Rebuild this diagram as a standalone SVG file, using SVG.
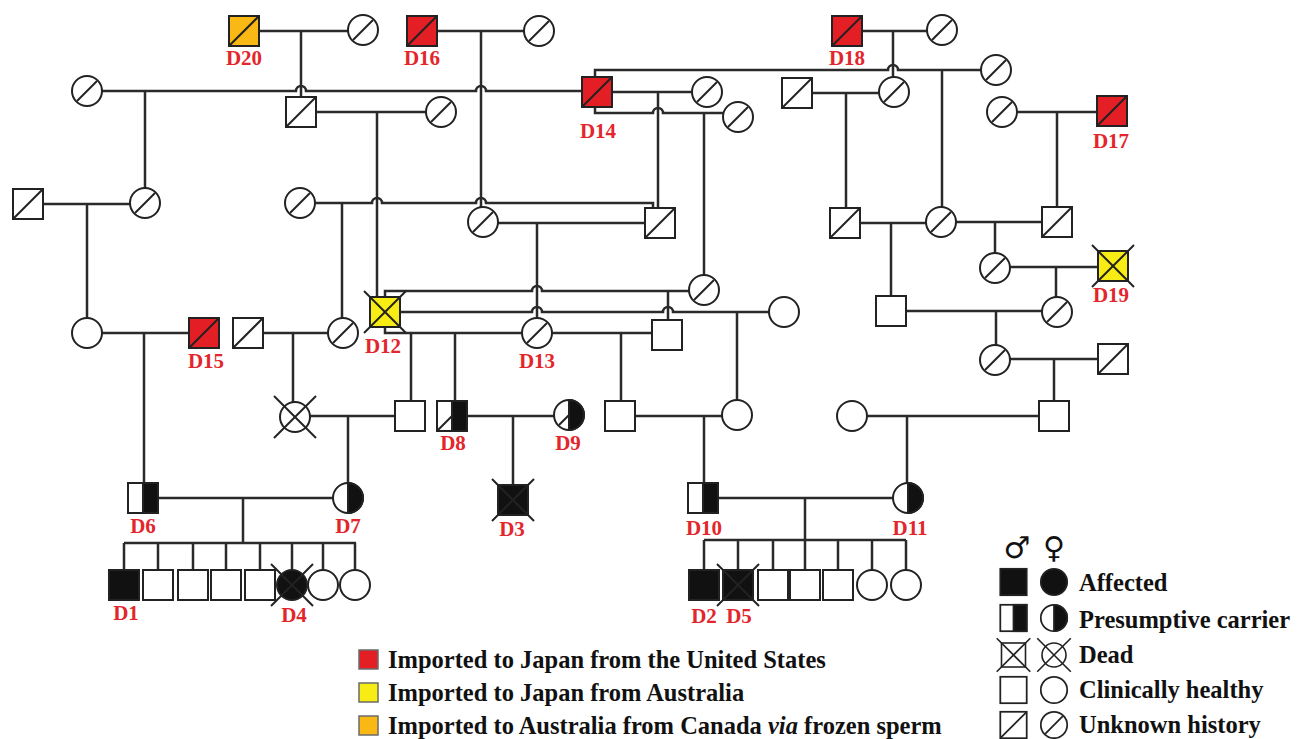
<svg xmlns="http://www.w3.org/2000/svg" xmlns:xlink="http://www.w3.org/1999/xlink" width="1300" height="739" viewBox="0 0 1300 739">
<style>
.l{stroke:#2a2a2a;stroke-width:2.5;fill:none}
.o{stroke:#222;stroke-width:2;fill:#fff}
.k{stroke:#222;stroke-width:2;fill:#111}
.d{stroke:#222;stroke-width:2;fill:none}
.x{stroke:#222;stroke-width:2}
.red{fill:#e31e24}
.yel{fill:#f7ec13}
.org{fill:#f9b814}
.lab{font-family:"Liberation Serif","Times New Roman",serif;font-weight:bold;font-size:21px;fill:#e3262b;text-anchor:middle}
.lg{font-family:"Liberation Serif","Times New Roman",serif;font-weight:bold;font-size:24.5px;fill:#111}
.box{stroke:#6b6b6b;stroke-width:1.5}
</style>
<defs>
<g id="uq"><rect x="-15" y="-15" width="30" height="30" class="o"/><line x1="-15" y1="15" x2="15" y2="-15" class="d"/></g>
<g id="uc"><circle r="15" class="o"/><line x1="-10" y1="10" x2="10" y2="-10" class="d"/></g>
<g id="hq"><rect x="-15" y="-15" width="30" height="30" class="o"/></g>
<g id="hc"><circle r="15" class="o"/></g>
<g id="aq"><rect x="-15" y="-15" width="30" height="30" class="k"/></g>
<g id="ac"><circle r="15" class="k"/></g>
<g id="cq"><rect x="-15" y="-15" width="30" height="30" class="o"/><rect x="0" y="-15" width="15" height="30" class="k"/></g>
<g id="cc"><circle r="15" class="o"/><path d="M0,-15 A15,15 0 0 1 0,15 Z" class="k"/></g>
<g id="xx"><line x1="-21" y1="-21" x2="21" y2="21" class="x"/><line x1="-21" y1="21" x2="21" y2="-21" class="x"/></g>
</defs>

<g id="connectors" class="l">
<path d="M259,31 H348 M301,31 V97"/>
<path d="M438,31 H524 M481,31 V207"/>
<path d="M863,31 H927 M893,31 V77"/>
<path d="M102,91 H296 a5,5 0 0 1 10,0 H476 a5,5 0 0 1 10,0 H582 M145,91 V188"/>
<path d="M317,112 H427 M377,112 V298"/>
<path d="M612,92 H692 M658,92 V208"/>
<path d="M595,107 V113 H653 a5,5 0 0 1 10,0 H723 M704,113 V275"/>
<path d="M595,77 V70 H888 a5,5 0 0 1 10,0 H982 M942,70 V207"/>
<path d="M812,93 H879 M846,93 V208"/>
<path d="M1017,112 H1097 M1057,112 V207"/>
<path d="M43,204 H130 M87,204 V318"/>
<path d="M315,203 H372 a5,5 0 0 1 10,0 H476 a5,5 0 0 1 10,0 H653 V208 M342,203 V318"/>
<path d="M498,223 H645 M537,223 V318"/>
<path d="M860,223 H926 M891,223 V296"/>
<path d="M956,222 H1042 M995,222 V253"/>
<path d="M1010,267 H1098 M1056,267 V297"/>
<path d="M906,311 H1042 M996,311 V345"/>
<path d="M1010,359 H1098 M1054,359 V401"/>
<path d="M867,416 H1039 M907,416 V483"/>
<path d="M102,333 H189 M144,333 V483"/>
<path d="M263,333 H328 M293,333 V402"/>
<path d="M385,297 V291 H532 a5,5 0 0 1 10,0 H689 M668,291 V320"/>
<path d="M400,312 H532 a5,5 0 0 1 10,0 H663 a5,5 0 0 1 10,0 H769 M737,312 V400"/>
<path d="M385,327 V333 H522 M411,333 V401 M455,333 V401"/>
<path d="M552,333 H652 M621,333 V401"/>
<path d="M310,416 H395 M348,416 V483"/>
<path d="M467,416 H554 M513,416 V485"/>
<path d="M635,416 H722 M704,416 V483"/>
<path d="M158,498 H333 M243,498 V543 M124,543 H356 M124,543 V570 M158,543 V570 M193,543 V570 M226,543 V570 M260,543 V570 M292,543 V570 M323,543 V570 M355,543 V570"/>
<path d="M718,498 H893 M805,498 V540 M704,540 H906 M704,540 V570 M738,540 V570 M773,540 V570 M805,540 V570 M838,540 V570 M872,540 V570 M906,540 V570"/>
</g>

<!-- top generation -->
<g id="D20" transform="translate(244,31)"><rect x="-15" y="-15" width="30" height="30" class="o org"/><line x1="-15" y1="15" x2="15" y2="-15" class="d"/></g>
<text class="lab" x="244" y="65">D20</text>
<g id="n_f20" transform="translate(363,30)"><use xlink:href="#uc"/></g>
<g id="D16" transform="translate(422,31)"><rect x="-15" y="-15" width="30" height="30" class="o red"/><line x1="-15" y1="15" x2="15" y2="-15" class="d"/></g>
<text class="lab" x="422" y="65">D16</text>
<g id="n_f16" transform="translate(539,31)"><use xlink:href="#uc"/></g>
<g id="D18" transform="translate(847,31)"><rect x="-15" y="-15" width="30" height="30" class="o red"/><line x1="-15" y1="15" x2="15" y2="-15" class="d"/></g>
<text class="lab" x="847" y="65">D18</text>
<g id="n_f18" transform="translate(942,30)"><use xlink:href="#uc"/></g>

<g id="n_c87" transform="translate(87,91)"><use xlink:href="#uc"/></g>
<g id="n_s301" transform="translate(301,112)"><use xlink:href="#uq"/></g>
<g id="n_c441" transform="translate(441,112)"><use xlink:href="#uc"/></g>
<g id="D14" transform="translate(597,92)"><rect x="-15" y="-15" width="30" height="30" class="o red"/><line x1="-15" y1="15" x2="15" y2="-15" class="d"/></g>
<text class="lab" x="598" y="138">D14</text>
<g id="n_c707" transform="translate(707,92)"><use xlink:href="#uc"/></g>
<g id="n_c738" transform="translate(738,117)"><use xlink:href="#uc"/></g>
<g id="n_s797" transform="translate(797,93)"><use xlink:href="#uq"/></g>
<g id="n_c893" transform="translate(894,92)"><use xlink:href="#uc"/></g>
<g id="n_c996" transform="translate(996,70)"><use xlink:href="#uc"/></g>
<g id="n_c1002" transform="translate(1002,112)"><use xlink:href="#uc"/></g>
<g id="D17" transform="translate(1112,111)"><rect x="-15" y="-15" width="30" height="30" class="o red"/><line x1="-15" y1="15" x2="15" y2="-15" class="d"/></g>
<text class="lab" x="1111" y="148">D17</text>

<g id="n_s28" transform="translate(28,204)"><use xlink:href="#uq"/></g>
<g id="n_c145" transform="translate(145,203)"><use xlink:href="#uc"/></g>
<g id="n_c300" transform="translate(300,203)"><use xlink:href="#uc"/></g>
<g id="n_c483" transform="translate(483,222)"><use xlink:href="#uc"/></g>
<g id="n_s660" transform="translate(660,223)"><use xlink:href="#uq"/></g>
<g id="n_s845" transform="translate(845,223)"><use xlink:href="#uq"/></g>
<g id="n_c941" transform="translate(941,222)"><use xlink:href="#uc"/></g>
<g id="n_s1057" transform="translate(1057,222)"><use xlink:href="#uq"/></g>

<g id="n_c995a" transform="translate(995,268)"><use xlink:href="#uc"/></g>
<g id="D19" transform="translate(1113,266)"><rect x="-15" y="-15" width="30" height="30" class="o yel"/><use xlink:href="#xx"/></g>
<text class="lab" x="1111" y="302">D19</text>
<g id="n_c704" transform="translate(704,290)"><use xlink:href="#uc"/></g>
<g id="n_s891" transform="translate(891,311)"><use xlink:href="#hq"/></g>
<g id="n_c1057" transform="translate(1057,312)"><use xlink:href="#uc"/></g>
<g id="n_c995b" transform="translate(995,360)"><use xlink:href="#uc"/></g>
<g id="n_s1113" transform="translate(1113,359)"><use xlink:href="#uq"/></g>

<g id="n_c87b" transform="translate(87,333)"><use xlink:href="#hc"/></g>
<g id="D15" transform="translate(204,333)"><rect x="-15" y="-15" width="30" height="30" class="o red"/><line x1="-15" y1="15" x2="15" y2="-15" class="d"/></g>
<text class="lab" x="206" y="368">D15</text>
<g id="n_s248" transform="translate(248,333)"><use xlink:href="#uq"/></g>
<g id="n_c343" transform="translate(343,333)"><use xlink:href="#uc"/></g>
<g id="D12" transform="translate(385,312)"><rect x="-15" y="-15" width="30" height="30" class="o yel"/><use xlink:href="#xx"/></g>
<text class="lab" x="383" y="353">D12</text>
<g id="D13" transform="translate(537,333)"><use xlink:href="#uc"/></g>
<text class="lab" x="537" y="368">D13</text>
<g id="n_s667" transform="translate(667,335)"><use xlink:href="#hq"/></g>
<g id="n_c784" transform="translate(784,312)"><use xlink:href="#hc"/></g>

<g id="n_dead295" transform="translate(295,417)"><use xlink:href="#hc"/><use xlink:href="#xx"/></g>
<g id="n_s410" transform="translate(410,416)"><use xlink:href="#hq"/></g>
<g id="D8" transform="translate(452,416)"><rect x="-15" y="-15" width="30" height="30" class="o"/><line x1="-15" y1="15" x2="15" y2="-15" class="d"/><rect x="0" y="-15" width="15" height="30" class="k"/></g>
<text class="lab" x="453" y="450">D8</text>
<g id="D9" transform="translate(569,415)"><circle r="15" class="o"/><line x1="-10" y1="10" x2="10" y2="-10" class="d"/><path d="M0,-15 A15,15 0 0 1 0,15 Z" class="k"/></g>
<text class="lab" x="568" y="450">D9</text>
<g id="n_s620" transform="translate(620,416)"><use xlink:href="#hq"/></g>
<g id="n_c737" transform="translate(737,415)"><use xlink:href="#hc"/></g>
<g id="n_c852" transform="translate(852,416)"><use xlink:href="#hc"/></g>
<g id="n_s1054" transform="translate(1054,416)"><use xlink:href="#hq"/></g>

<g id="D6" transform="translate(143,498)"><use xlink:href="#cq"/></g>
<text class="lab" x="143" y="533">D6</text>
<g id="D7" transform="translate(348,498)"><use xlink:href="#cc"/></g>
<text class="lab" x="348" y="533">D7</text>
<g id="D3" transform="translate(513,500)"><use xlink:href="#aq"/><use xlink:href="#xx"/></g>
<text class="lab" x="512" y="536">D3</text>
<g id="D10" transform="translate(703,498)"><use xlink:href="#cq"/></g>
<text class="lab" x="704" y="535">D10</text>
<g id="D11" transform="translate(908,498)"><use xlink:href="#cc"/></g>
<text class="lab" x="910" y="535">D11</text>

<g id="D1" transform="translate(124,585)"><use xlink:href="#aq"/></g>
<text class="lab" x="126" y="620">D1</text>
<g id="n_k2" transform="translate(158,585)"><use xlink:href="#hq"/></g>
<g id="n_k3" transform="translate(193,585)"><use xlink:href="#hq"/></g>
<g id="n_k4" transform="translate(226,585)"><use xlink:href="#hq"/></g>
<g id="n_k5" transform="translate(260,585)"><use xlink:href="#hq"/></g>
<g id="D4" transform="translate(292,585)"><use xlink:href="#ac"/><use xlink:href="#xx"/></g>
<text class="lab" x="294" y="622">D4</text>
<g id="n_k7" transform="translate(323,585)"><use xlink:href="#hc"/></g>
<g id="n_k8" transform="translate(355,585)"><use xlink:href="#hc"/></g>

<g id="D2" transform="translate(704,585)"><use xlink:href="#aq"/></g>
<text class="lab" x="704" y="623">D2</text>
<g id="D5" transform="translate(738,585)"><use xlink:href="#aq"/><use xlink:href="#xx"/></g>
<text class="lab" x="739" y="623">D5</text>
<g id="n_m3" transform="translate(773,585)"><use xlink:href="#hq"/></g>
<g id="n_m4" transform="translate(805,585)"><use xlink:href="#hq"/></g>
<g id="n_m5" transform="translate(838,585)"><use xlink:href="#hq"/></g>
<g id="n_m6" transform="translate(872,585)"><use xlink:href="#hc"/></g>
<g id="n_m7" transform="translate(906,585)"><use xlink:href="#hc"/></g>

<!-- legend right -->
<g id="legend-symbols">
<text x="1017" y="558" font-family="DejaVu Sans,sans-serif" font-size="30" text-anchor="middle" fill="#111">♂</text>
<text x="1054" y="558" font-family="DejaVu Sans,sans-serif" font-size="30" text-anchor="middle" fill="#111">♀</text>
<g transform="translate(1013.5,582) scale(0.88)"><use xlink:href="#aq"/></g>
<g transform="translate(1054,582) scale(0.88)"><use xlink:href="#ac"/></g>
<g transform="translate(1013.5,618) scale(0.88)"><use xlink:href="#cq"/></g>
<g transform="translate(1054,618) scale(0.88)"><use xlink:href="#cc"/></g>
<g transform="translate(1013.5,655) scale(0.8)"><use xlink:href="#hq"/><use xlink:href="#xx"/></g>
<g transform="translate(1054,655) scale(0.8)"><use xlink:href="#hc"/><use xlink:href="#xx"/></g>
<g transform="translate(1013.5,690) scale(0.88)"><use xlink:href="#hq"/></g>
<g transform="translate(1054,690) scale(0.88)"><use xlink:href="#hc"/></g>
<g transform="translate(1013.5,725) scale(0.88)"><use xlink:href="#uq"/></g>
<g transform="translate(1054,725) scale(0.88)"><use xlink:href="#uc"/></g>
</g>
<text class="lg" x="1079" y="591">Affected</text>
<text class="lg" x="1079" y="628">Presumptive carrier</text>
<text class="lg" x="1079" y="663">Dead</text>
<text class="lg" x="1079" y="698">Clinically healthy</text>
<text class="lg" x="1079" y="733">Unknown history</text>

<!-- legend bottom -->
<rect x="359" y="650" width="19" height="19" class="box red"/>
<text class="lg" x="388" y="668">Imported to Japan from the United States</text>
<rect x="359" y="683" width="19" height="19" class="box yel"/>
<text class="lg" x="388" y="701">Imported to Japan from Australia</text>
<rect x="359" y="716" width="19" height="19" class="box org"/>
<text class="lg" x="388" y="734">Imported to Australia from Canada <tspan font-style="italic">via</tspan> frozen sperm</text>
</svg>
